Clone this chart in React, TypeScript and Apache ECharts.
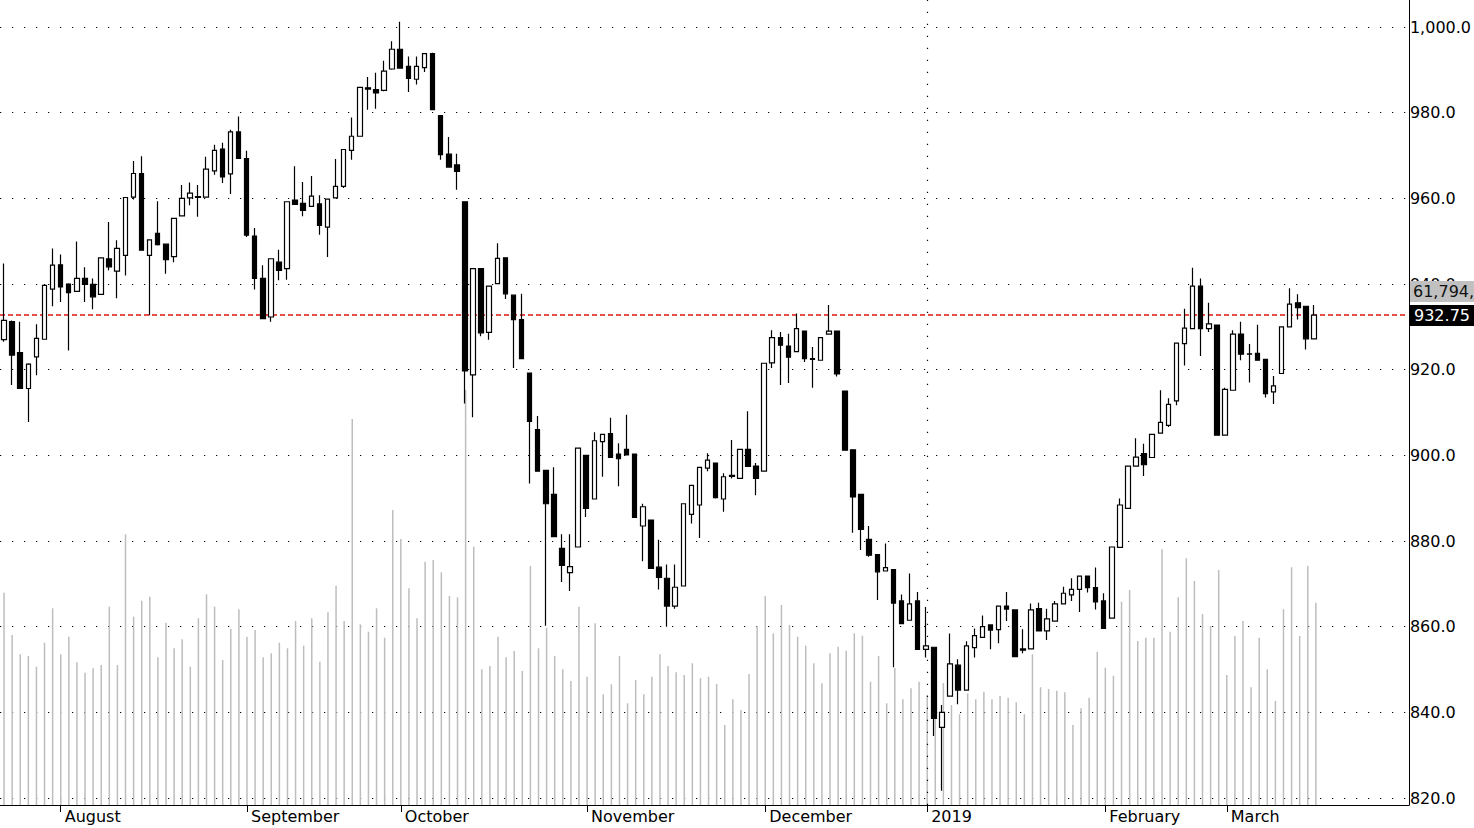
import React, { useEffect, useRef } from "react";
import * as echarts from "echarts";

// ---- data ----
const opens = [
  927, 931.2, 924, 915.6, 923, 927.1, 938.8, 944.5, 940, 938.3,
  941.3, 939.9, 937.6, 945.9, 943, 946.7, 960.3, 965.8, 946.7, 951.8,
  949.3, 946.4, 955.9, 960.1, 960.2, 960.3, 966.4, 971.5, 965.7, 975.5,
  969.3, 951.2, 941.3, 932.3, 945.1, 943.6, 959.6, 958.8, 958.1, 958.7,
  953.3, 960.1, 962.8, 971.2, 974.5, 985.8, 985.4, 985.2, 990.2, 994.8,
  990.8, 987.8, 990.5, 993.8, 979.3, 970.3, 967.8, 959.2, 918.8, 943.6,
  928.7, 940.1, 946.1, 937.4, 931.7, 919.2, 906, 896.5, 890.9, 878.3,
  872.6, 878.6, 900, 889.8, 903.2, 905.1, 900.3, 901.4, 900.3, 883.5,
  884.9, 873.9, 871.3, 864.8, 869.5, 886.2, 888.4, 897, 898.2, 889.8,
  895.1, 894.6, 901.4, 897.5, 896.3, 921.6, 927.5, 925.5, 924.2, 929,
  922.6, 922.2, 928.3, 929, 915, 901.3, 890.9, 880.4, 876.8, 873,
  873.3, 866, 861.5, 866, 854.7, 855.2, 836.5, 843.8, 851, 845.2,
  855.1, 857.5, 860.4, 859.3, 864.8, 863.9, 854.8, 854.8, 864.2, 859,
  861.3, 865.3, 867.4, 868.7, 871.8, 869.1, 866, 862, 878.5, 887.6,
  897.5, 900.4, 899.5, 905.2, 907, 912.7, 926.1, 929.6, 939.5, 929.6,
  930.4, 904.7, 915.2, 928.3, 923.6, 923.8, 922.4, 914.8, 919.1, 930,
  935.6, 934.8, 927.2,
];
const closes = [
  931.5, 923.4, 915.6, 921.3, 927.3, 939.7, 944.4, 939.3, 938, 941.3,
  939.9, 937, 946.1, 944, 948.3, 960.2, 965.8, 947.9, 950.3, 949.2,
  945.7, 955.3, 960, 961.2, 960.4, 966.8, 971.2, 965, 975.5, 969.3,
  951.4, 941.3, 931.9, 945.9, 943.2, 959.2, 958.6, 957.2, 960.5, 953.7,
  959.8, 962.8, 971.4, 974.5, 985.9, 985.5, 984.6, 989.7, 994.8, 990.4,
  988, 990.8, 993.8, 980.7, 970.2, 967.3, 966.3, 919.7, 943.6, 928.6,
  939.5, 946, 937.7, 931.7, 922.6, 907.9, 896.3, 888.7, 881, 874.3,
  874, 901.7, 887.6, 903.4, 904.9, 899.5, 899.2, 900.1, 885.5, 888,
  873.6, 871.5, 864.8, 869.2, 888.7, 893, 897.2, 898.9, 890.1, 895,
  895.3, 901.4, 897.4, 894.6, 921.5, 927.5, 925.7, 922.9, 929.6, 922.6,
  922.4, 927.5, 929, 919, 901.2, 890.3, 882.7, 876.7, 872.8, 873.8,
  865.5, 860.7, 865.3, 854.7, 855.5, 838.6, 840, 851.3, 845.2, 855.5,
  857.9, 860, 859.2, 864.8, 864.1, 853, 854.5, 863.9, 859, 861.8,
  865.3, 867.8, 868.7, 871.8, 869.1, 865.8, 859.6, 878.6, 888.4, 897.5,
  899.6, 897.8, 904.9, 907.7, 911.9, 926.2, 929.7, 939.5, 929.6, 930.7,
  904.7, 915.4, 928.3, 923.6, 923.7, 922.2, 914.4, 916.2, 930, 935.3,
  934.5, 927.2, 932.75,
];
const lows = [
  926.5, 916.4, 915.5, 907.8, 918.7, 927, 934.8, 935.8, 924.5, 938.2,
  935.8, 934.1, 937.5, 943.2, 936.7, 942, 959.7, 947.8, 932.7, 949,
  942.4, 945.1, 955.8, 958.4, 955.7, 960.2, 965.5, 963.6, 961, 969.2,
  951, 938.7, 931.8, 931.2, 940.9, 941, 958.5, 955.8, 958, 951.5,
  946.3, 960, 962.4, 969, 974.4, 980.7, 980.9, 985, 990, 990.3,
  984.8, 986.6, 989.5, 980.6, 969, 967.2, 962, 912.1, 908.9, 927.8,
  927, 940, 936.5, 920.4, 922.5, 893.4, 896.2, 860.2, 880.9, 870.4,
  868.3, 878.5, 885.6, 889.7, 895, 899.4, 892.8, 900, 885.4, 875.3,
  873.5, 868.7, 860, 864.2, 869.4, 884.1, 880.7, 896.3, 889.9, 886.8,
  894.6, 894.5, 897.3, 890.7, 896.2, 920.4, 916.4, 916.9, 924.1, 921.8,
  915.8, 922.1, 928.2, 918.4, 901.1, 881.9, 877.9, 876.3, 866.2, 872.9,
  850.5, 860.6, 861.4, 854.6, 852.8, 834.5, 821.7, 843.7, 841.9, 845.1,
  852.8, 857.4, 854.7, 856.1, 861.3, 852.9, 853.8, 854.7, 858.9, 856.9,
  861.2, 865.2, 866, 863.4, 868, 864, 859.5, 861.9, 878.4, 887.5,
  897.4, 895.2, 899.4, 905.1, 906.6, 911.7, 921, 929.5, 923.2, 928.8,
  904.6, 904.6, 915.1, 922.2, 917, 922.1, 913.5, 912, 919, 929.9,
  931.7, 924.7, 927.1,
];
const highs = [
  944.8, 931.5, 931.2, 921.5, 930.6, 940, 948.3, 946.9, 940.2, 949.9,
  943.9, 941.3, 946.2, 954.5, 950.2, 960.3, 968.7, 969.8, 950.4, 959.3,
  949.4, 955.4, 963.1, 963.7, 963.1, 969.7, 972.5, 973, 976, 979.1,
  971.1, 953.1, 944.4, 946, 948, 959.3, 967.5, 963.8, 965.2, 960.7,
  959.8, 969.2, 971.5, 978.9, 986, 988.3, 989.3, 992.1, 996.7, 1001.2,
  993.1, 993.1, 993.9, 994, 979.4, 974.3, 970.4, 959.3, 943.7, 943.7,
  939.6, 949.5, 946.2, 937.5, 937.7, 919.3, 909.2, 896.6, 897.2, 881.6,
  881.6, 901.8, 900.1, 905.4, 905, 908.8, 902.8, 909.5, 900.4, 888.7,
  885, 880.3, 874.5, 874.5, 888.8, 893.1, 897.2, 900.5, 898.3, 895.8,
  903.6, 901.5, 910.3, 898.2, 921.6, 929.2, 928.8, 928.4, 933.1, 929.1,
  925.3, 927.6, 935.1, 929.1, 915.1, 901.4, 891, 883.5, 876.9, 879.4,
  873.4, 867.5, 872.4, 868.1, 864.6, 855.3, 841.7, 858.4, 852.4, 856.6,
  859.6, 862.6, 860.5, 864.9, 868.1, 864, 859.4, 865.4, 865.6, 864.2,
  866, 869.3, 871.3, 871.9, 871.9, 873.8, 867.8, 878.7, 889.9, 897.6,
  904, 902.7, 905, 915.2, 913.3, 926.3, 934.2, 943.8, 941.3, 935.6,
  930.5, 915.8, 929.2, 931.2, 926, 930.5, 922.5, 918.5, 930.1, 939,
  937.6, 934.9, 935.1,
];
// volume, in thousands
const volumes = [
  64860, 51940, 46040, 45520, 42250, 49580, 60090, 46040, 51420, 43600,
  40420, 41760, 42770, 60580, 42770, 82700, 57530, 62410, 63640, 45120,
  55690, 47870, 50620, 42250, 57040, 64370, 60580, 44300, 53770, 59790,
  51420, 53460, 45120, 46340, 49580, 47870, 56210, 48670, 57040, 43780,
  58870, 67000, 56210, 117920, 55200, 52940, 60090, 51110, 90120, 81260,
  66200, 57040, 74330, 74850, 71090, 63850, 63450, 126780, 78910, 41460,
  42460, 51420, 45120, 47050, 40940, 73010, 47870, 54070, 45520, 41460,
  37880, 60580, 39200, 55510, 33820, 36870, 45520, 31070, 38190, 33820,
  39200, 46040, 42460, 40540, 39720, 43290, 38710, 39200, 36970, 24440,
  32290, 29020, 40020, 54680, 63850, 52450, 61100, 54990, 51420, 48670,
  43290, 37180, 46340, 48360, 47140, 52450, 51720, 37670, 45520, 31070,
  41850, 32290, 35650, 37670, 33610, 37270, 37270, 30550, 27710, 34120,
  32290, 34610, 32290, 33300, 32780, 31370, 27710, 46040, 35960, 35440,
  34920, 34430, 24440, 29540, 32780, 46830, 41950, 39500, 62110, 65680,
  50100, 51110, 51110, 78120, 52940, 63450, 75370, 68430, 58350, 54680,
  71790, 39720, 51630, 56210, 35960, 51110, 41460, 31770, 59790, 72620,
  51630, 73010, 61794,
];
const monthStarts = [7, 30, 49, 72, 94, 114, 136, 151];
const monthNames = ["August", "September", "October", "November", "December", "2019", "February", "March"];
const yearBreakIndex = 114;
const totalSlots = 174;
const priceMin = 820;
const priceMax = 1000;
const priceStep = 20;

export default function App() {
  const ref = useRef<HTMLDivElement>(null);

  useEffect(() => {
    const chart = echarts.init(ref.current as HTMLDivElement, null, { renderer: "svg" });
    const cats = Array.from({ length: totalSlots }, (_, i) => String(i));
    const candleData = opens.map((o, i) => [o, closes[i], lows[i], highs[i]]);
    const volData = volumes.map((v) => v * 1000);
    const lastClose = closes[closes.length - 1];
    const lastVol = volData[volData.length - 1];
    const font = "DejaVu Sans";
    const dotted = { color: "#000", width: 1.2, type: [1.2, 10.8] as any };
    const isMonth = (i: number) => monthStarts.includes(i);

    const option: any = {
      animation: false,
      backgroundColor: "#fff",
      grid: [
        { left: 0, top: 27, width: 1409, height: 771 },
        { left: 0, top: 0, width: 1409, height: 805 },
      ],
      xAxis: [
        { type: "category", gridIndex: 0, data: cats, boundaryGap: true, show: false },
        {
          type: "category",
          gridIndex: 1,
          data: cats,
          boundaryGap: true,
          axisLine: { show: true, lineStyle: { color: "#000", width: 1 } },
          axisTick: {
            show: true,
            alignWithLabel: true,
            length: 7,
            interval: (i: number) => isMonth(i),
            lineStyle: { color: "#000", width: 1 },
          },
          axisLabel: {
            show: true,
            interval: (i: number) => isMonth(i),
            formatter: (v: string) => {
              const k = monthStarts.indexOf(Number(v));
              return k >= 0 ? monthNames[k] : "";
            },
            align: "left",
            padding: [0, 0, 0, 4],
            margin: 3,
            color: "#000",
            fontFamily: font,
            fontSize: 16,
          },
          splitLine: { show: false },
        },
      ],
      yAxis: [
        {
          type: "value",
          gridIndex: 0,
          position: "right",
          min: priceMin,
          max: priceMax,
          interval: priceStep,
          axisLine: { show: false },
          axisTick: { show: false },
          axisLabel: {
            formatter: (v: number) =>
              v.toLocaleString("en-US", { minimumFractionDigits: 1, maximumFractionDigits: 1 }),
            color: "#000",
            fontFamily: font,
            fontSize: 16,
            margin: 3,
          },
          splitLine: { show: true, lineStyle: dotted },
        },
        {
          type: "value",
          gridIndex: 1,
          position: "right",
          min: 0,
          max: 245900000,
          axisLine: { show: true, lineStyle: { color: "#000", width: 1 } },
          axisTick: { show: false },
          axisLabel: { show: false },
          splitLine: { show: false },
        },
      ],
      series: [
        {
          type: "bar",
          name: "Volume",
          xAxisIndex: 1,
          yAxisIndex: 1,
          data: volData,
          barWidth: 1.5,
          itemStyle: { color: "#bdbdbd" },
          z: 1,
          silent: true,
          markLine: {
            silent: true,
            symbol: ["none", "none"],
            label: { show: false },
            lineStyle: dotted,
            data: [{ xAxis: String(yearBreakIndex) }],
          },
        },
        {
          type: "candlestick",
          name: "Price",
          xAxisIndex: 0,
          yAxisIndex: 0,
          data: candleData,
          barWidth: 5,
          clip: false,
          z: 5,
          itemStyle: {
            color: "#fff",
            color0: "#000",
            borderColor: "#000",
            borderColor0: "#000",
            borderColorDoji: "#000",
            borderWidth: 1.2,
          },
          markLine: {
            silent: true,
            symbol: ["none", "none"],
            label: { show: false },
            lineStyle: { color: "#e0140c", width: 1.5, type: [5, 3] },
            data: [{ yAxis: lastClose }],
          },
        },
      ],
    };
    chart.setOption(option);

    const py = chart.convertToPixel({ yAxisIndex: 0 } as any, lastClose) as number;
    chart.setOption({
      graphic: [
        {
          type: "rect",
          shape: { x: 1410, y: py - 34, width: 64, height: 21 },
          style: { fill: "#c0c0c0" },
          z: 100,
        },
        {
          type: "text",
          x: 1413,
          y: py - 23.5,
          style: {
            text: lastVol.toLocaleString("en-US"),
            fill: "#111",
            fontFamily: font,
            fontSize: 16,
            verticalAlign: "middle",
          },
          z: 101,
        },
        {
          type: "rect",
          shape: { x: 1410, y: py - 10, width: 64, height: 21 },
          style: { fill: "#000" },
          z: 100,
        },
        {
          type: "text",
          x: 1414,
          y: py + 0.5,
          style: {
            text: lastClose.toFixed(2),
            fill: "#fff",
            fontFamily: font,
            fontSize: 16,
            verticalAlign: "middle",
          },
          z: 101,
        },
      ],
    });

    return () => chart.dispose();
  }, []);

  return (
    <div
      ref={ref}
      style={{ position: "absolute", left: 0, top: 0, width: 1474, height: 828, background: "#fff" }}
    />
  );
}
